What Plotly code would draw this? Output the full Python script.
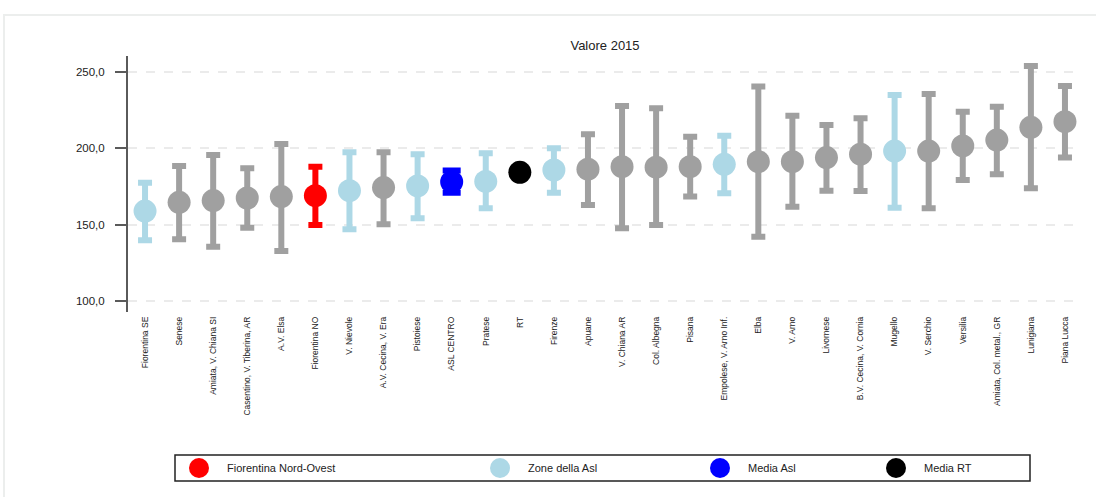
import plotly.graph_objects as go

# Zone names, in plotted order
zones = [
    "Fiorentina SE", "Senese", "Amiata, V. Chiana SI", "Casentino, V. Tiberina, AR",
    "A.V. Elsa", "Fiorentina NO", "V. Nievole", "A.V. Cecina, V. Era", "Pistoiese",
    "ASL CENTRO", "Pratese", "RT", "Firenze", "Apuane", "V. Chiana AR", "Col. Albegna",
    "Pisana", "Empolese, V. Arno Inf.", "Elba", "V. Arno", "Livornese",
    "B.V. Cecina, V. Cornia", "Mugello", "V. Serchio", "Versilia",
    "Amiata, Col. metal., GR", "Lunigiana", "Piana Lucca",
]

# Point estimate and confidence limits (Valore 2015)
valore = [159.0, 164.7, 165.8, 167.5, 168.4, 169.0, 172.3, 174.3, 175.4, 178.0,
          178.3, 184.3, 185.8, 186.3, 188.0, 187.6, 188.0, 189.5, 191.2, 191.2,
          193.9, 196.1, 198.2, 198.2, 201.5, 205.4, 213.7, 217.4]
lim_inf = [139.9, 140.5, 135.7, 148.1, 132.9, 149.9, 147.1, 150.3, 154.2, 171.0,
           160.8, None, 171.0, 162.9, 147.7, 149.9, 168.4, 170.6, 142.2, 161.8,
           172.3, 172.1, 161.2, 160.8, 179.3, 183.0, 173.9, 193.9]
lim_sup = [177.5, 188.4, 195.6, 186.9, 202.8, 188.0, 197.4, 197.4, 196.1, 185.5,
           196.7, None, 200.0, 209.2, 227.6, 226.1, 207.6, 208.2, 240.3, 221.3,
           215.2, 219.6, 234.8, 235.5, 223.9, 227.2, 253.8, 240.7]

# Group of each zone
gruppo = ["asl", "altre", "altre", "altre", "altre", "fno", "asl", "altre", "asl",
          "media_asl", "asl", "media_rt", "asl", "altre", "altre", "altre", "altre",
          "asl", "altre", "altre", "altre", "altre", "asl", "altre", "altre",
          "altre", "altre", "altre"]

colori = {
    "altre": "#a0a0a0",
    "asl": "#add8e6",
    "fno": "#ff0000",
    "media_asl": "#0000ff",
    "media_rt": "#000000",
}

# Legend entries
legenda_gruppi = ["fno", "asl", "media_asl", "media_rt"]
legenda_testi = ["Fiorentina Nord-Ovest", "Zone della Asl", "Media Asl", "Media RT"]

FONT = "Liberation Sans, Arial, sans-serif"

fig = go.Figure()

for g, col in colori.items():
    idx = [i for i, gg in enumerate(gruppo) if gg == g]
    xs = [zones[i] for i in idx]
    ys = [valore[i] for i in idx]
    has_err = all(lim_inf[i] is not None for i in idx)
    err = None
    if has_err:
        err = dict(
            type="data",
            symmetric=False,
            array=[lim_sup[i] - valore[i] for i in idx],
            arrayminus=[valore[i] - lim_inf[i] for i in idx],
            color=col,
            thickness=6,
            width=9 if g == "media_asl" else 7,
        )
    fig.add_trace(go.Scatter(
        x=xs, y=ys, mode="markers",
        marker=dict(color=col, size=23, line=dict(width=0)),
        error_y=err,
        showlegend=False,
        hoverinfo="x+y",
    ))

# Plot area geometry (pixels) used to place decorations in paper coordinates
W, H = 1096, 497
ML, MR, MT, MB = 128, 14, 56, 185
PW, PH = W - ML - MR, H - MT - MB


def px_x(px):
    return (px - ML) / PW


def px_y(py):
    return (H - MB - py) / PH


shapes = [
    # outer panel frame
    dict(type="rect", xref="paper", yref="paper",
         x0=px_x(4), x1=px_x(W + 20), y0=px_y(15), y1=px_y(H + 20),
         line=dict(color="#eceeed", width=2), fillcolor="rgba(0,0,0,0)", layer="below"),
    # legend box
    dict(type="rect", xref="paper", yref="paper",
         x0=px_x(175), x1=px_x(1030), y0=px_y(455), y1=px_y(481),
         line=dict(color="#222222", width=1.5), fillcolor="white"),
]

annotations = []
leg_cx = [199, 500, 720, 896]
for cx, g, testo in zip(leg_cx, legenda_gruppi, legenda_testi):
    shapes.append(dict(
        type="circle", xref="paper", yref="paper",
        xsizemode="pixel", ysizemode="pixel",
        xanchor=px_x(cx), yanchor=px_y(468),
        x0=-10, x1=10, y0=-10, y1=10,
        fillcolor=colori[g], line=dict(width=0),
    ))
    annotations.append(dict(
        xref="paper", yref="paper", x=px_x(cx + 26), y=px_y(468),
        xanchor="left", yanchor="middle", showarrow=False,
        text=testo, font=dict(size=11, color="#222222", family=FONT),
    ))

fig.update_layout(
    width=W, height=H,
    margin=dict(l=ML, r=MR, t=MT, b=MB),
    paper_bgcolor="white", plot_bgcolor="white",
    separators=",.",
    font=dict(family=FONT, color="#222222"),
    title=dict(text="Valore 2015", x=0.5, xref="paper", y=1 - 45 / H,
               yanchor="middle", font=dict(size=13, color="#222222", family=FONT)),
    shapes=shapes,
    annotations=annotations,
    xaxis=dict(
        type="category", categoryorder="array", categoryarray=zones,
        range=[-0.5, len(zones) - 0.5],
        tickangle=-90, tickfont=dict(size=8.5, color="#222222"),
        showgrid=False, showline=False, zeroline=False, ticks="",
        ticklabelstandoff=2,
    ),
    yaxis=dict(
        range=[93, 260.3],
        tickvals=[100, 150, 200, 250], tickformat=".1f",
        tickfont=dict(size=11.5, color="#222222"),
        showgrid=True, gridcolor="#ebebeb", griddash="dash", gridwidth=1.5,
        showline=True, linecolor="#5a5a5a", linewidth=2,
        ticks="outside", ticklen=11, tickcolor="#5a5a5a", tickwidth=2,
        ticklabelstandoff=8,
        zeroline=False,
    ),
)

fig.write_html("out.html")
